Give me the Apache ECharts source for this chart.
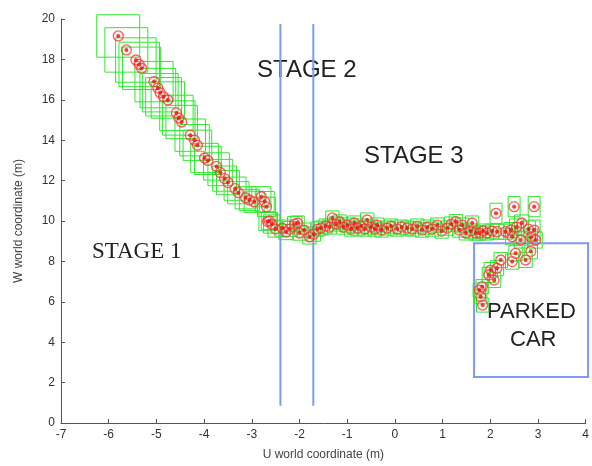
<!DOCTYPE html>
<html>
<head>
<meta charset="utf-8">
<script src="https://cdn.jsdelivr.net/npm/echarts@6/dist/echarts.min.js"></script>
<style>html,body{margin:0;padding:0;background:#fff}#c{width:592px;height:466px}</style>
</head>
<body>
<div id="c"></div>
<script>
// Detections: [u (m), w (m), u extent (m), w extent (m)]
const stage1Track = [
  [-5.80,19.16,0.90,2.10],[-5.63,18.47,0.90,2.20],[-5.43,17.97,0.85,2.20],[-5.36,17.75,0.85,2.20],
  [-5.31,17.56,0.80,2.10],[-5.05,16.90,0.80,2.00],[-4.97,16.58,0.75,1.95],[-4.92,16.35,0.75,1.90],
  [-4.85,16.15,0.75,1.90],[-4.76,15.99,0.70,1.80],[-4.58,15.35,0.70,1.75],[-4.53,15.10,0.68,1.70],
  [-4.47,14.90,0.66,1.65],[-4.29,14.25,0.64,1.60],[-4.20,14.00,0.62,1.55],[-4.14,13.75,0.60,1.50],
  [-3.99,13.12,0.58,1.45],[-3.92,13.00,0.56,1.40],[-3.74,12.70,0.54,1.35],[-3.66,12.40,0.52,1.30],
  [-3.57,12.10,0.50,1.25],[-3.50,11.90,0.48,1.20],[-3.35,11.60,0.46,1.15],[-3.28,11.40,0.45,1.10],
  [-3.13,11.15,0.44,1.10],[-3.05,11.04,0.42,1.05],[-2.95,10.95,0.42,1.05],[-2.80,11.20,0.40,1.00],
  [-2.73,10.96,0.40,1.00],[-2.69,10.70,0.38,0.95],[-2.67,9.97,0.36,0.90],[-2.58,9.85,0.35,0.90]
];
const stage3Track = [
  [-2.63,10.00,0.34,0.85],[-2.50,9.60,0.32,0.80],[-2.36,9.65,0.32,0.80],[-2.28,9.45,0.30,0.75],
  [-2.21,9.60,0.30,0.75],[-2.10,9.85,0.30,0.75],[-2.04,9.90,0.28,0.70],[-2.00,9.40,0.28,0.70],
  [-1.90,9.55,0.28,0.70],[-1.79,9.21,0.28,0.70],[-1.70,9.35,0.28,0.70],[-1.62,9.60,0.28,0.70],
  [-1.55,9.65,0.28,0.70],[-1.45,9.75,0.28,0.70],[-1.37,9.70,0.28,0.70],[-1.31,10.15,0.28,0.70],
  [-1.23,9.85,0.28,0.70],[-1.16,9.95,0.28,0.70],[-1.08,9.70,0.28,0.70],[-1.00,9.80,0.28,0.70],
  [-0.92,9.60,0.28,0.70],[-0.85,9.90,0.28,0.70],[-0.78,9.65,0.28,0.70],[-0.71,9.75,0.28,0.70],
  [-0.63,9.60,0.28,0.70],[-0.58,10.05,0.28,0.70],[-0.50,9.70,0.28,0.70],[-0.42,9.60,0.28,0.70],
  [-0.37,9.80,0.28,0.70],[-0.28,9.55,0.28,0.70],[-0.16,9.65,0.28,0.70],[-0.08,9.75,0.28,0.70],
  [0.05,9.60,0.28,0.70],[0.14,9.70,0.28,0.70],[0.26,9.65,0.28,0.70],[0.36,9.60,0.28,0.70],
  [0.47,9.75,0.28,0.70],[0.57,9.55,0.28,0.70],[0.68,9.70,0.28,0.70],[0.78,9.60,0.28,0.70],
  [0.89,9.80,0.28,0.70],[0.98,9.50,0.28,0.70],[1.10,9.65,0.28,0.70],[1.18,9.85,0.28,0.70],
  [1.28,9.97,0.28,0.70],[1.35,9.55,0.28,0.70],[1.41,9.80,0.28,0.70],[1.49,9.41,0.28,0.70],
  [1.59,9.50,0.28,0.70],[1.62,9.90,0.28,0.70],[1.70,9.41,0.28,0.70],[1.77,9.40,0.28,0.70],
  [1.85,9.50,0.28,0.70],[1.93,9.41,0.28,0.70],[2.04,9.50,0.28,0.70]
];
const parkTrack = [
  [2.12,10.38,0.25,1.00],[2.14,9.47,0.28,0.75],[2.32,9.47,0.28,0.75],[2.43,9.55,0.28,0.75],
  [2.50,10.71,0.25,1.00],[2.92,10.71,0.25,1.00],[2.66,9.90,0.30,0.80],[2.55,9.70,0.30,0.80],
  [2.80,9.60,0.30,0.80],[2.92,9.55,0.25,1.00],[2.95,9.06,0.28,0.80],[2.85,9.20,0.28,0.80],
  [2.64,9.06,0.28,0.80],[2.46,9.22,0.28,0.80],[2.53,8.40,0.28,0.75],[2.74,8.07,0.28,0.75],
  [2.85,8.50,0.28,0.75],[2.46,7.99,0.28,0.75],[2.22,8.07,0.28,0.75],[2.14,7.66,0.28,0.75],
  [2.01,7.57,0.28,0.75],[1.97,7.33,0.28,0.75],[2.08,7.08,0.28,0.75],[1.83,6.75,0.26,0.70],
  [1.77,6.58,0.26,0.70],[1.80,6.25,0.26,0.70],[1.84,5.84,0.26,0.70]
];
// Stage boundaries (u, m) and their vertical extent (w, m)
const stageBoundsU = [-2.40, -1.71];
const stageBoundsW = [0.9, 19.7];
// Parked car box: [uMin, wMin, uMax, wMax]
const parkedCar = [1.66, 2.28, 4.05, 8.9];
const xTicks = {min:-7, max:4, step:1};
const yTicks = {min:0, max:20, step:2};

const allTrack = stage1Track.concat(stage3Track, parkTrack);
const pts = allTrack.map(d => [d[0], d[1]]);

const blue = '#7f9bf0';
// One row per blue segment: [u1, w1, u2, w2]
const blueSegs = stageBoundsU.map(u => [u, stageBoundsW[0], u, stageBoundsW[1]]).concat([
  [parkedCar[0], parkedCar[1], parkedCar[2], parkedCar[1]],
  [parkedCar[2], parkedCar[1], parkedCar[2], parkedCar[3]],
  [parkedCar[2], parkedCar[3], parkedCar[0], parkedCar[3]],
  [parkedCar[0], parkedCar[3], parkedCar[0], parkedCar[1]]
]);

const chart = echarts.init(document.getElementById('c'), null, {renderer:'canvas'});
const axisCol = '#555';
const sans = 'Liberation Sans, Arial, sans-serif';
const labelFont = {color:'#333', fontSize:12, fontFamily:sans};
chart.setOption({
  animation:false,
  backgroundColor:'#fff',
  grid:{left:61, right:5, top:19, bottom:43, containLabel:false},
  xAxis:{
    type:'value', min:xTicks.min, max:xTicks.max, interval:xTicks.step,
    name:'U world coordinate (m)', nameLocation:'middle', nameGap:26,
    nameTextStyle:{color:'#444', fontSize:12, fontFamily:sans},
    axisLine:{show:true, onZero:false, lineStyle:{color:axisCol, width:1}},
    axisTick:{show:true, inside:true, length:4, lineStyle:{color:axisCol}},
    axisLabel:Object.assign({margin:6}, labelFont),
    splitLine:{show:false}
  },
  yAxis:{
    type:'value', min:yTicks.min, max:yTicks.max, interval:yTicks.step,
    name:'W world coordinate (m)', nameLocation:'middle', nameGap:36,
    nameTextStyle:{color:'#444', fontSize:12, fontFamily:sans},
    axisLine:{show:true, onZero:false, lineStyle:{color:axisCol, width:1}},
    axisTick:{show:true, inside:true, length:4, lineStyle:{color:axisCol}},
    axisLabel:Object.assign({margin:6}, labelFont),
    splitLine:{show:false}
  },
  series:[
    {
      type:'custom', data:blueSegs, clip:false, z:1, silent:true,
      renderItem:(params, api) => {
        const a = api.coord([api.value(0), api.value(1)]);
        const b = api.coord([api.value(2), api.value(3)]);
        return {type:'line', shape:{x1:a[0], y1:a[1], x2:b[0], y2:b[1]},
          style:{stroke:blue, lineWidth:2, lineCap:'square'}};
      }
    },
    {
      type:'custom', data:allTrack, z:2, silent:true, clip:false,
      renderItem:(params, api) => {
        const c = api.coord([api.value(0), api.value(1)]);
        const s = api.size([api.value(2), api.value(3)]);
        return {type:'rect', shape:{x:c[0]-s[0]/2, y:c[1]-s[1]/2, width:s[0], height:s[1]},
          style:{fill:'transparent', stroke:'#2ee82e', lineWidth:1}};
      }
    },
    {type:'scatter', data:pts, symbol:'circle', symbolSize:10, z:3, silent:true,
      itemStyle:{color:'rgba(255,120,120,0.15)', borderColor:'#f23a3a', borderWidth:1.3}},
    {type:'scatter', data:pts, symbol:'circle', symbolSize:4, z:4, silent:true,
      itemStyle:{color:'#e81010'}}
  ],
  graphic:[
    {type:'text', left:92, top:240, style:{text:'STAGE 1', fontSize:23, fontFamily:'Liberation Serif, Times New Roman, serif', fill:'#222'}},
    {type:'text', left:257, top:58, style:{text:'STAGE 2', fontSize:24, fontFamily:sans, fill:'#222'}},
    {type:'text', left:364, top:144, style:{text:'STAGE 3', fontSize:24, fontFamily:sans, fill:'#222'}},
    {type:'text', left:487, top:301, style:{text:'PARKED', fontSize:22, fontFamily:sans, fill:'#222'}},
    {type:'text', left:510, top:329, style:{text:'CAR', fontSize:22, fontFamily:sans, fill:'#222'}}
  ]
});
</script>
</body>
</html>
